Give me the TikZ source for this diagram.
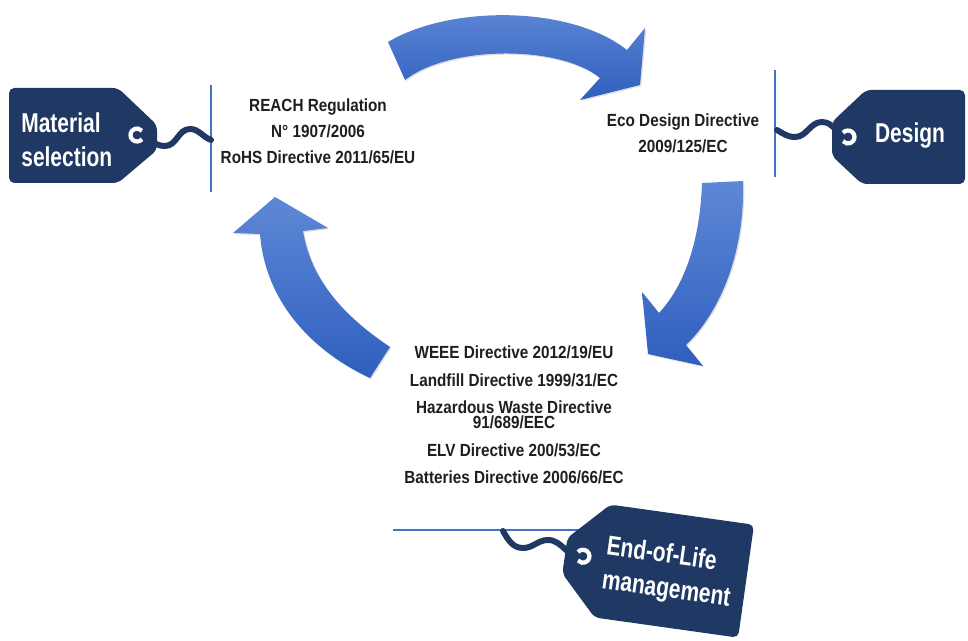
\documentclass[tikz,border=0pt]{standalone}
\usepackage{fontspec}
\setmainfont{Liberation Sans}
\newfontfamily\lawfont[FakeStretch=0.87]{Liberation Sans}
\newfontfamily\tagfont[FakeStretch=0.77]{Liberation Sans}
\usetikzlibrary{shadows}
\definecolor{tagblue}{HTML}{1F3864}
\definecolor{lineblue}{HTML}{4472C4}
\definecolor{arrowtop}{RGB}{94,136,214}
\definecolor{arrowbot}{RGB}{47,95,190}
\begin{document}
\begin{tikzpicture}[x=0.02cm, y=-0.02cm,
law/.style={align=center, text=black!88, font=\lawfont\bfseries\fontsize{10}{14.7}\selectfont},
tag text/.style={align=left, inner sep=0pt, text=white, font=\tagfont\bfseries\fontsize{15.5}{19.5}\selectfont},
tag/.style={fill=tagblue, rounded corners=3pt},
hole/.style={draw=white, line width=2.4pt},
string/.style={draw=tagblue, line width=3.4pt, line cap=round},
rule/.style={draw=lineblue, line width=0.6pt},
big arrow/.style={top color=arrowtop, bottom color=arrowbot, drop shadow={opacity=0.25, shadow xshift=0.7pt, shadow yshift=-0.7pt}}]
\useasboundingbox (0,0) rectangle (968,641);

\shade[big arrow] (388,42) .. controls (450,5) and (570,5) .. (627,50) -- (645,28) -- (640,85) -- (580,100) -- (600,78) .. controls (560,45) and (450,45) .. (405,80) -- cycle;
\shade[big arrow] (702,183) -- (743,181) .. controls (745,250) and (722,310) .. (686,345) -- (703,366) -- (648,354) -- (642,292) -- (659,313) .. controls (685,285) and (700,240) .. (702,183) -- cycle;
\shade[big arrow] (390,347) .. controls (350,320) and (312,285) .. (303,231) -- (328,228) -- (275,197) -- (233,233) -- (260,234) .. controls (265,300) and (310,350) .. (370,378) -- cycle;

\node[law] (reach) at (318,131) {REACH Regulation\\N° 1907/2006\\RoHS Directive 2011/65/EU};
\node[law] (eco) at (683,133) {Eco Design Directive\\2009/125/EC};
\node[law, font=\lawfont\bfseries\fontsize{10}{15.6}\selectfont] (weee) at (514,415) {WEEE Directive 2012/19/EU\\Landfill Directive 1999/31/EC\\Hazardous Waste Directive\\[-6.9pt]91/689/EEC\\ELV Directive 200/53/EC\\Batteries Directive 2006/66/EC};

\coordinate (r1a) at (211,85);
\coordinate (r1b) at (211,192);
\coordinate (r2a) at (775,70);
\coordinate (r2b) at (775,177);
\coordinate (r3a) at (393,530);
\coordinate (r3b) at (592,530);
\draw[rule] (r1a) -- (r1b);
\draw[rule] (r2a) -- (r2b);
\draw[rule] (r3a) -- (r3b);

\fill[tag] (9,88) -- (118,88) -- (157,125) -- (157,150) -- (118,183) -- (9,183) -- cycle;
\node[tag text, anchor=west] (matsel) at (21,140) {Material\\selection};
\coordinate (hole1) at (137,135);
\draw[string] (hole1) to[out=-10,in=180] (165,146) to[out=0,in=180] (190,129) to[out=0,in=160] (211,140);
\draw[hole] (hole1) ++(40:6.5) arc[start angle=40, end angle=320, radius=6.5];

\fill[tag] (866,90) -- (965,90) -- (965,184) -- (862,184) -- (832,156) -- (832,122) -- cycle;
\node[tag text] (design) at (910,136) {Design};
\coordinate (hole2) at (848,137);
\draw[string] (hole2) to[out=170,in=0] (822,122) to[out=180,in=0] (795,137) to[out=180,in=-30] (777,130);
\draw[hole] (hole2) ++(-140:6.5) arc[start angle=-140, end angle=140, radius=6.5];

\begin{scope}[shift={(652,568)}, rotate=-8]
\fill[tag] (-50,-57) -- (95,-57) -- (95,57) -- (-50,57) -- (-88,18) -- (-88,-18) -- cycle;
\node[tag text, anchor=west, rotate=-8] (eol) at (-48,3) {End-of-Life\\management};
\coordinate (hole3) at (-70,-2);
\end{scope}
\draw[string] (hole3) to[out=195,in=0] (548,540) to[out=180,in=0] (523,548) to[out=180,in=-60] (503,531);
\draw[hole] (hole3) ++(-140:6.5) arc[start angle=-140, end angle=140, radius=6.5];

\end{tikzpicture}
\end{document}
